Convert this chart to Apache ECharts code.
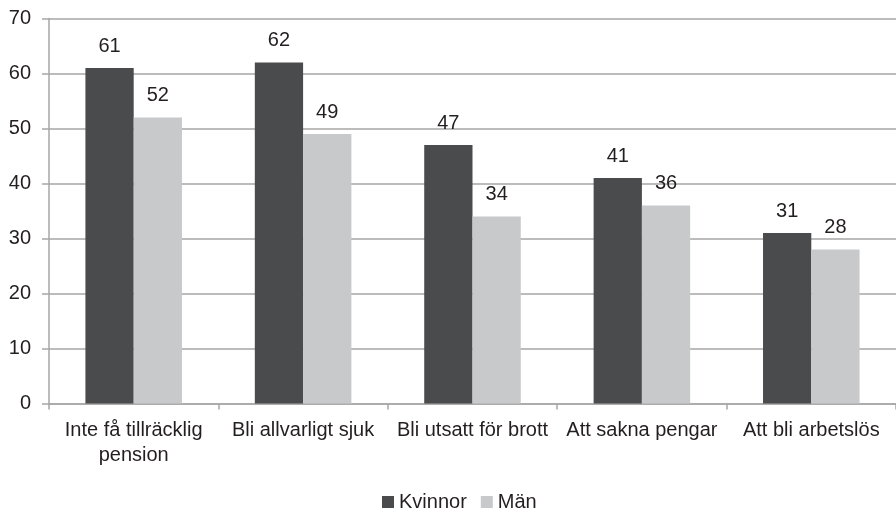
<!DOCTYPE html>
<html><head><meta charset="utf-8">
<script src="https://cdn.jsdelivr.net/npm/echarts@6/dist/echarts.min.js"></script>
<style>html,body{margin:0;padding:0;background:#fff}#c{width:896px;height:513px}</style>
</head><body><div id="c"></div>
<script>
const categories = ['Inte få tillräcklig\npension','Bli allvarligt sjuk','Bli utsatt för brott','Att sakna pengar','Att bli arbetslös'];
const kvinnor = [61, 62, 47, 41, 31];
const man = [52, 49, 34, 36, 28];
const yTicks = {min: 0, max: 70, interval: 10};
const font = 'Liberation Sans, Arial, sans-serif';
const chart = echarts.init(document.getElementById('c'));
chart.setOption({
  animation: false,
  textStyle: {fontFamily: font},
  grid: {left: 49, right: 0, top: 18.5, bottom: 109.5, containLabel: false},
  legend: {
    top: 492, left: 382, padding: 0, itemWidth: 12, itemHeight: 12, itemGap: 14,
    icon: 'rect',
    textStyle: {fontSize: 20, color: '#231f20', fontFamily: font},
    data: ['Kvinnor', 'Män']
  },
  xAxis: {
    type: 'category', data: categories,
    axisLine: {lineStyle: {color: '#a6a6a6', width: 1.5}},
    axisTick: {show: true, length: 6, lineStyle: {color: '#a6a6a6', width: 1.5}},
    axisLabel: {fontSize: 20, color: '#231f20', margin: 14, lineHeight: 25, interval: 0}
  },
  yAxis: {
    type: 'value', min: yTicks.min, max: yTicks.max, interval: yTicks.interval,
    axisLine: {show: true, lineStyle: {color: '#a6a6a6', width: 1.5}},
    axisTick: {show: true, length: 7, lineStyle: {color: '#a6a6a6', width: 1.5}},
    splitLine: {lineStyle: {color: '#a6a6a6', width: 1.5}},
    axisLabel: {fontSize: 20, color: '#231f20', margin: 18}
  },
  series: [
    {name: 'Kvinnor', type: 'bar', data: kvinnor, barGap: '0%', barCategoryGap: '43%',
     itemStyle: {color: '#4a4b4d'},
     label: {show: true, position: 'top', distance: 12, fontSize: 20, color: '#231f20'}},
    {name: 'Män', type: 'bar', data: man,
     itemStyle: {color: '#c8c9cb'},
     label: {show: true, position: 'top', distance: 12, fontSize: 20, color: '#231f20'}}
  ]
});
</script></body></html>
